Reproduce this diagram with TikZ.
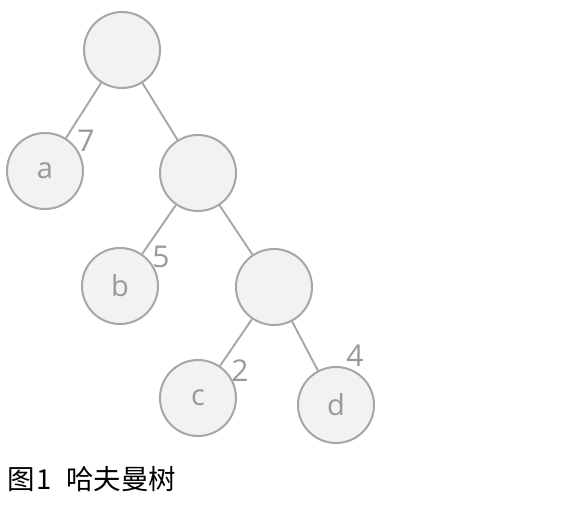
\documentclass[tikz,border=0pt]{standalone}
\usepackage{fontspec}
\setmainfont{Open Sans}
\newfontfamily\cjk{Noto Sans CJK SC}
\definecolor{nodefill}{HTML}{F2F2F2}
\definecolor{nodeline}{HTML}{A6A6A6}
\definecolor{txt}{HTML}{999999}
\begin{document}
\begin{tikzpicture}[x=1pt,y=-1pt,
  tnode/.style={circle,draw=nodeline,fill=nodefill,line width=2pt,minimum size=76pt,inner sep=0pt,text=txt,font=\fontsize{29}{33}\selectfont},
  edge/.style={draw=nodeline,line width=1.9pt},
  wlabel/.style={text=txt,inner sep=0pt,font=\fontsize{30}{34}\selectfont}]
\useasboundingbox (0,0) rectangle (578,512);
\node[tnode] (r) at (122,50) {};
\node[tnode] (a) at (45,171) {a};
\node[tnode] (n1) at (198,173) {};
\node[tnode] (b) at (120,286) {b};
\node[tnode] (n2) at (274,287) {};
\node[tnode] (c) at (198,398) {c};
\node[tnode] (d) at (336,405) {d};
\draw[edge] (r) -- (a);
\draw[edge] (r) -- (n1);
\draw[edge] (n1) -- (b);
\draw[edge] (n1) -- (n2);
\draw[edge] (n2) -- (c);
\draw[edge] (n2) -- (d);
\node[wlabel] (w7) at (86,141) {7};
\node[wlabel] (w5) at (161,257) {5};
\node[wlabel] (w2) at (240,371) {2};
\node[wlabel] (w4) at (355,356) {4};
\node[anchor=west,inner sep=0pt,font=\cjk\fontsize{27.5}{31}\selectfont] (cap) at (7,479) {图\hspace{2pt}1\hspace{8pt} 哈夫曼树};
\end{tikzpicture}
\end{document}
